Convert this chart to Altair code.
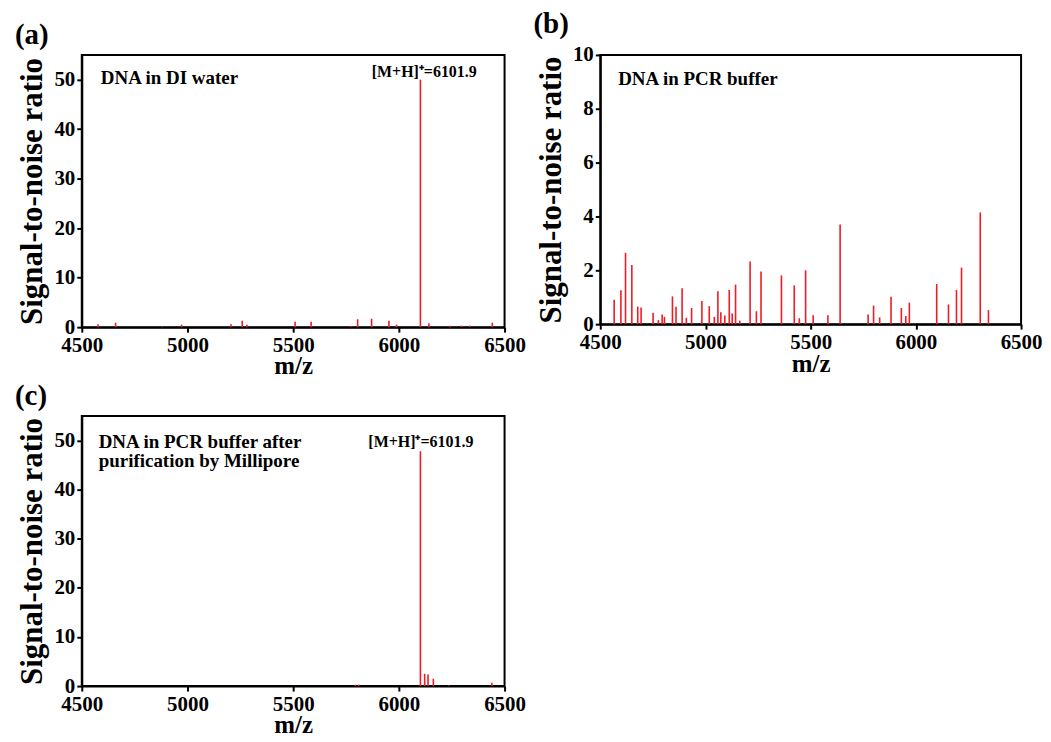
import altair as alt
import pandas as pd

# Panel (a): DNA in DI water
a_mz = [4577, 4660, 4880, 4972, 5206, 5259, 5281, 5509, 5585, 5772, 5805, 5871,
        5953, 5989, 6101.9, 6142, 6241, 6296, 6335, 6442]
a_sn = [0.6, 0.9, 0.1, 0.5, 0.6, 1.3, 0.5, 1.1, 1.1, 0.2, 1.6, 1.7,
        1.3, 0.5, 50, 0.8, 0.3, 0.3, 0.3, 0.9]

# Panel (b): DNA in PCR buffer
b_mz = [4566, 4598, 4620, 4650, 4678, 4694, 4751, 4776, 4794, 4805, 4843, 4860,
        4889, 4909, 4934, 4983, 5018, 5042, 5059, 5073, 5092, 5113, 5127, 5143,
        5163, 5212, 5242, 5264, 5361, 5422, 5446, 5476, 5512, 5582, 5640, 5773,
        5799, 5828, 5882, 5931, 5952, 5969, 6099, 6155, 6193, 6217, 6306, 6345]
b_sn = [0.91, 1.26, 2.65, 2.2, 0.65, 0.62, 0.42, 0.15, 0.36, 0.27, 1.03, 0.65,
        1.33, 0.24, 0.6, 0.86, 0.67, 0.27, 1.22, 0.44, 0.32, 1.27, 0.4, 1.47,
        0.13, 2.33, 0.48, 1.96, 1.81, 1.44, 0.22, 2.0, 0.33, 0.33, 3.7, 0.36,
        0.69, 0.25, 1.02, 0.6, 0.3, 0.8, 1.49, 0.73, 1.27, 2.1, 4.15, 0.52]

# Panel (c): DNA in PCR buffer after purification
c_mz = [5795, 5810, 6101.9, 6122, 6138, 6163, 6236, 6440]
c_sn = [0.3, 0.3, 47.8, 2.5, 2.36, 1.5, 0.13, 0.67]

x_ticks = [4500, 5000, 5500, 6000, 6500]
ya_ticks = [0, 10, 20, 30, 40, 50]
yb_ticks = [0, 2, 4, 6, 8, 10]

panel_titles = ["(a)", "(b)", "(c)"]

# annotations: (text, x, y, size, align)
a_notes = [("DNA in DI water", 4590, 49.2, 19, "left"),
           ("[M+H]⁺=6101.9", 6120, 50.6, 16, "center")]
b_notes = [("DNA in PCR buffer", 4585, 8.9, 19, "left")]
c_notes = [("DNA in PCR buffer after", 4580, 48.5, 19, "left"),
           ("purification by Millipore", 4580, 44.6, 19, "left"),
           ("[M+H]⁺=6101.9", 6104, 48.6, 16, "center")]

FONT = "Liberation Serif"
RED = "#ee1c25"


def panel(mz, sn, ydom, yticks, title, notes, w, h):
    df = pd.DataFrame({"mz": mz, "sn": sn, "zero": [0] * len(mz)})
    xs = alt.Scale(domain=[4500, 6500], nice=False, zero=False)
    ys = alt.Scale(domain=ydom, nice=False)
    bars = alt.Chart(df).mark_rule(color=RED, strokeWidth=1.6).encode(
        x=alt.X("mz:Q", scale=xs, title="m/z",
                axis=alt.Axis(values=x_ticks, format="d", labelFlush=False)),
        y=alt.Y("zero:Q", scale=ys, title="Signal-to-noise ratio",
                axis=alt.Axis(values=yticks, format="d")),
        y2="sn:Q",
    )
    layers = [bars]
    for txt, x, y, size, align in notes:
        ndf = pd.DataFrame({"t": [txt], "x": [x], "y": [y]})
        layers.append(
            alt.Chart(ndf).mark_text(
                font=FONT, fontWeight="bold", fontSize=size, align=align,
                baseline="alphabetic", color="black"
            ).encode(x=alt.X("x:Q", scale=xs), y=alt.Y("y:Q", scale=ys), text="t:N")
        )
    return alt.layer(*layers).properties(
        width=w, height=h,
        title=alt.TitleParams(title, anchor="start", frame="bounds", font=FONT,
                              fontWeight="bold", fontSize=29, color="black",
                              offset=5, dx=-2),
    )


pa = panel(a_mz, a_sn, [0, 55], ya_ticks, panel_titles[0], a_notes, 424, 273)
pb = panel(b_mz, b_sn, [0, 10], yb_ticks, panel_titles[1], b_notes, 422, 270)
pc = panel(c_mz, c_sn, [0, 55], ya_ticks, panel_titles[2], c_notes, 424, 271)

chart = alt.vconcat(
    alt.hconcat(pa, pb, spacing=5),
    pc,
    spacing=1,
).configure(
    padding={"left": 5, "top": 0, "right": 0, "bottom": 0},
    background="white",
).configure_axis(
    grid=False,
    domainColor="black", domainWidth=2,
    tickColor="black", tickWidth=2, tickSize=5,
    labelFont=FONT, labelFontWeight="bold", labelFontSize=21, labelColor="black",
    titleFont=FONT, titleFontWeight="bold", titleColor="black",
).configure_axisY(
    titleFontSize=31, titlePadding=5, labelPadding=2,
).configure_axisX(
    titleFontSize=25, titlePadding=-1, labelPadding=2,
).configure_view(
    stroke="black", strokeWidth=2,
)

chart.save("out.html", embed_options={"renderer": "svg", "actions": False})
